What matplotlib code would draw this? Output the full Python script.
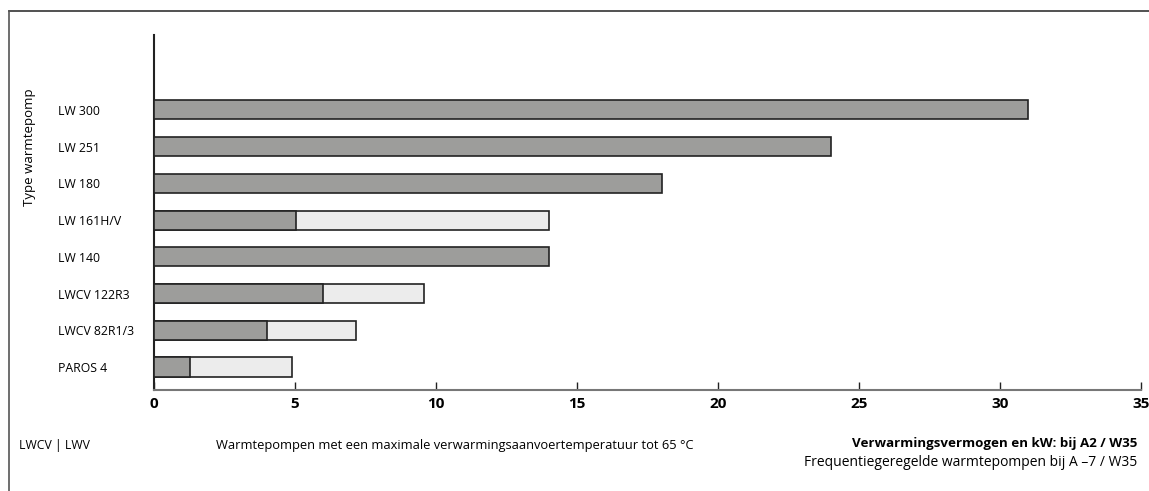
import matplotlib
matplotlib.use("Agg")
import matplotlib.pyplot as plt
from matplotlib.lines import Line2D

plt.rcParams['font.family'] = ['Open Sans', 'DejaVu Sans']

categories = ["PAROS 4", "LWCV 82R1/3", "LWCV 122R3", "LW 140", "LW 161H/V", "LW 180", "LW 251", "LW 300"]
base_kw = [1.29, 4.02, 6.01, 14.0, 5.03, 18.0, 24.0, 31.0]     # A2/W35 (dark)
max_kw = [4.89, 7.15, 9.58, 14.0, 14.0, 18.0, 24.0, 31.0]      # A-7/W35 frequency controlled (light total)
xticks = [0, 5, 10, 15, 20, 25, 30, 35]

dark = "#9d9d9b"
light = "#ececec"
edge = "#222222"

fig = plt.figure(figsize=(11.49, 4.91), dpi=100)
ax = fig.add_axes([154/1149, 1-390/491, (1141-154)/1149, (390-35)/491])

ypos = list(range(len(categories)))
h = 0.52
for y, b, m in zip(ypos, base_kw, max_kw):
    if m > b:
        ax.barh(y, m, height=h, color=light, edgecolor=edge, linewidth=1.2, zorder=2)
    ax.barh(y, b, height=h, color=dark, edgecolor=edge, linewidth=1.2, zorder=3)

ax.set_xlim(0, 35)
ax.set_ylim(-0.626, 9.04)
ax.set_xticks(xticks)
ax.set_xticklabels([str(t) for t in xticks], fontweight='bold', fontsize=11)
ax.tick_params(axis='x', direction='in', length=6, width=1, color='#222222', pad=5)
ax.set_yticks(ypos)
ax.set_yticklabels(categories, fontsize=8.8)
ax.tick_params(axis='y', length=0, pad=69)
for lab in ax.get_yticklabels():
    lab.set_horizontalalignment('left')

for s in ['top', 'right']:
    ax.spines[s].set_visible(False)
ax.spines['left'].set_color('#222222')
ax.spines['left'].set_linewidth(1.5)
ax.spines['bottom'].set_color('#777777')
ax.spines['bottom'].set_linewidth(1.5)

fig.text(29/1149, 1-147/491, "Type warmtepomp", rotation=90, fontsize=9.5, ha='center', va='center')

fig.text(19/1149, 1-445/491, "LWCV | LWV", fontsize=8.8, ha='left', va='center')
fig.text(216/1149, 1-445/491, "Warmtepompen met een maximale verwarmingsaanvoertemperatuur tot 65 °C", fontsize=9.3, ha='left', va='center')
fig.text(1137/1149, 1-443/491, "Verwarmingsvermogen en kW: bij A2 / W35", fontsize=9.6, fontweight='bold', ha='right', va='center')
fig.text(1137/1149, 1-463/491, "Frequentiegeregelde warmtepompen bij A –7 / W35", fontsize=10, ha='right', va='center')

fig.add_artist(Line2D([9/1149, 1], [1-11/491, 1-11/491], color='#333333', linewidth=1.2))
fig.add_artist(Line2D([9/1149, 9/1149], [0, 1-11/491], color='#555555', linewidth=1.2))

fig.savefig("out.png", dpi=100)
